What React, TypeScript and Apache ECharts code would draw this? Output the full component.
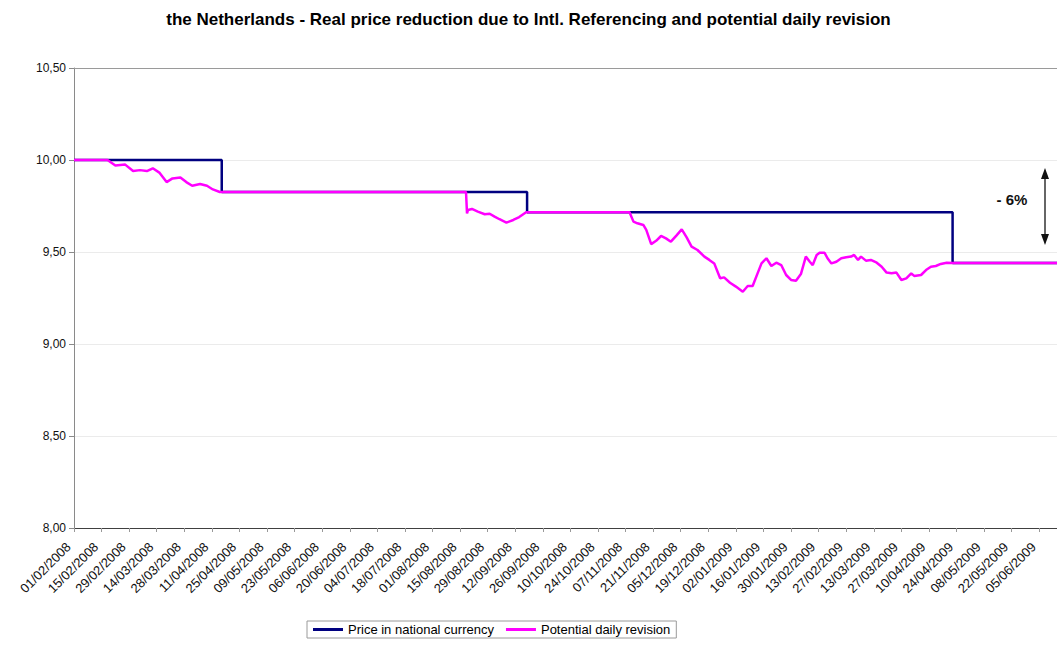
import React, { useEffect, useRef } from 'react';
import * as echarts from 'echarts';

const FONT = "'Liberation Sans', Arial, sans-serif";

const titleText =
  'the Netherlands - Real price reduction due to Intl. Referencing and potential daily revision';
const seriesNames = ['Price in national currency', 'Potential daily revision'];
const annotationText = '- 6%';

// x-axis tick labels (every 14 days)
const tickLabels = [
  '01/02/2008', '15/02/2008', '29/02/2008', '14/03/2008', '28/03/2008', '11/04/2008',
  '25/04/2008', '09/05/2008', '23/05/2008', '06/06/2008', '20/06/2008', '04/07/2008',
  '18/07/2008', '01/08/2008', '15/08/2008', '29/08/2008', '12/09/2008', '26/09/2008',
  '10/10/2008', '24/10/2008', '07/11/2008', '21/11/2008', '05/12/2008', '19/12/2008',
  '02/01/2009', '16/01/2009', '30/01/2009', '13/02/2009', '27/02/2009', '13/03/2009',
  '27/03/2009', '10/04/2009', '24/04/2009', '08/05/2009', '22/05/2009', '05/06/2009',
];

const startDate = '01/02/2008';
const endDate = '14/06/2009';

// Price in national currency: value valid up to each change date
const priceDates = ['01/02/2008', '16/04/2008', '18/09/2008', '22/04/2009', '14/06/2009'];
const priceValues = [10.0, 9.826, 9.716, 9.44, 9.44];

// Potential daily revision: days since 01/02/2008 and values
const revisionDays = [
  0, 17, 21, 26, 30, 33.5, 37, 40, 43.5, 47, 50, 54, 57, 60, 64, 67.5, 70.5, 74,
  199, 199.5, 200, 202, 205, 208.5, 211, 213.5, 216, 219.5, 223, 226, 229.5,
  282, 284, 286, 289, 290.5, 293, 295.5, 298, 300.5, 303, 306, 308.5, 311, 313.5, 316.5,
  320, 322.5, 325, 328, 330, 333, 336, 339.5, 342, 344.5, 347, 349, 351.5, 354, 356.5,
  359, 361.5, 364, 366.5, 369, 371.5, 373.5, 375, 377, 378.5, 381, 382.5, 384.5, 387,
  389.5, 392, 394.5, 396, 398, 399.5, 402, 404.5, 407.5, 410, 412.5, 415, 417.5, 420,
  422.5, 425, 426.5, 430, 432.5, 435, 437.5, 440, 443, 446, 499,
];
const revisionValues = [
  10.0, 10.0, 9.97, 9.975, 9.94, 9.945, 9.94, 9.955, 9.93, 9.88, 9.9, 9.905, 9.88, 9.86, 9.87, 9.86, 9.84, 9.826,
  9.826, 9.71, 9.728, 9.734, 9.719, 9.705, 9.708, 9.692, 9.678, 9.66, 9.674, 9.69, 9.716,
  9.716, 9.665, 9.656, 9.647, 9.62, 9.543, 9.561, 9.587, 9.574, 9.556, 9.592, 9.623, 9.579, 9.529, 9.511,
  9.475, 9.457, 9.438, 9.357, 9.362, 9.333, 9.312, 9.284, 9.315, 9.315, 9.384, 9.438, 9.466, 9.424, 9.442,
  9.429, 9.375, 9.348, 9.344, 9.38, 9.475, 9.447, 9.429, 9.484, 9.496, 9.496, 9.466, 9.438, 9.447,
  9.466, 9.471, 9.475, 9.484, 9.457, 9.475, 9.453, 9.457, 9.442, 9.42, 9.388, 9.384, 9.388, 9.348,
  9.357, 9.384, 9.37, 9.375, 9.402, 9.42, 9.424, 9.435, 9.442, 9.44, 9.44,
];

const yMin = 8;
const yMax = 10.5;
const yInterval = 0.5;

function toUTC(s: string): number {
  const [d, m, y] = s.split('/').map(Number);
  return Date.UTC(y, m - 1, d);
}
function dayIndex(s: string): number {
  return Math.round((toUTC(s) - toUTC(startDate)) / 86400000);
}

const tickDays = tickLabels.map(dayIndex);
const labelByDay: Record<number, string> = {};
tickLabels.forEach((l, i) => (labelByDay[tickDays[i]] = l));
const xMax = dayIndex(endDate);

const priceData = priceDates.map((d, i) => [dayIndex(d), priceValues[i]]);
const revisionData = revisionDays.map((d, i) => [d, revisionValues[i]]);

const NAVY = '#000080';
const MAGENTA = '#FF00FF';

export default function App() {
  const ref = useRef<HTMLDivElement>(null);
  useEffect(() => {
    const chart = echarts.init(ref.current!, null, { renderer: 'svg' });
    const option: any = {
      animation: false,
      backgroundColor: '#ffffff',
      textStyle: { fontFamily: FONT },
      title: {
        text: titleText,
        left: 'center',
        top: 6,
        textStyle: { fontFamily: FONT, fontSize: 17, fontWeight: 'bold', color: '#000' },
      },
      legend: {
        left: 307,
        top: 621,
        padding: [2, 6],
        borderColor: '#9a9a9a',
        borderWidth: 1,
        itemWidth: 30,
        itemHeight: 3,
        itemGap: 12,
        icon: 'rect',
        textStyle: { fontFamily: FONT, fontSize: 13, color: '#000' },
        data: seriesNames,
      },
      grid: { left: 74, right: 0, top: 68, bottom: 117, containLabel: false },
      xAxis: [
        {
          type: 'value',
          min: 0,
          max: xMax,
          axisLine: { show: true, lineStyle: { color: '#404040', width: 1 } },
          axisTick: {
            show: true,
            customValues: tickDays,
            length: 4,
            lineStyle: { color: '#999' },
          },
          axisLabel: {
            customValues: tickDays,
            formatter: (v: number) => labelByDay[v] ?? '',
            rotate: 45,
            fontSize: 13,
            fontFamily: FONT,
            color: '#111',
            margin: 11,
            padding: [0, 8, 0, 0],
          },
          splitLine: { show: false },
        },
        {
          type: 'value',
          position: 'top',
          min: 0,
          max: xMax,
          axisLine: { show: true, lineStyle: { color: '#9a9a9a', width: 1 } },
          axisTick: { show: false },
          axisLabel: { show: false },
          splitLine: { show: false },
        },
      ],
      yAxis: {
        type: 'value',
        min: yMin,
        max: yMax,
        interval: yInterval,
        axisLine: { show: true, lineStyle: { color: '#8a8a8a' } },
        axisTick: { show: true, length: 5, lineStyle: { color: '#8a8a8a' } },
        axisLabel: {
          formatter: (v: number) => v.toFixed(2).replace('.', ','),
          fontSize: 12,
          fontFamily: FONT,
          color: '#111',
          margin: 8,
        },
        splitLine: { show: true, lineStyle: { color: '#ebebeb', width: 1 } },
      },
      series: [
        {
          name: seriesNames[0],
          type: 'line',
          step: 'end',
          data: priceData,
          symbol: 'none',
          lineStyle: { color: NAVY, width: 2.5 },
          itemStyle: { color: NAVY },
          z: 2,
        },
        {
          name: seriesNames[1],
          type: 'line',
          data: revisionData,
          symbol: 'none',
          lineStyle: { color: MAGENTA, width: 2.5 },
          itemStyle: { color: MAGENTA },
          z: 3,
        },
      ],
      graphic: [
        {
          type: 'text',
          x: 1012,
          y: 199,
          style: {
            text: annotationText,
            font: `bold 15px ${FONT}`,
            fill: '#111',
            align: 'center',
            verticalAlign: 'middle',
          },
        },
        {
          type: 'line',
          shape: { x1: 1045, y1: 176, x2: 1045, y2: 237 },
          style: { stroke: '#333', lineWidth: 1.5 },
        },
        {
          type: 'polygon',
          shape: { points: [[1045, 168], [1041, 179], [1049, 179]] },
          style: { fill: '#111' },
        },
        {
          type: 'polygon',
          shape: { points: [[1045, 245], [1041, 234], [1049, 234]] },
          style: { fill: '#111' },
        },
      ],
    };
    chart.setOption(option);
    return () => chart.dispose();
  }, []);
  return (
    <div
      ref={ref}
      style={{ position: 'fixed', left: 0, top: 0, width: 1057, height: 645, background: '#fff' }}
    />
  );
}
